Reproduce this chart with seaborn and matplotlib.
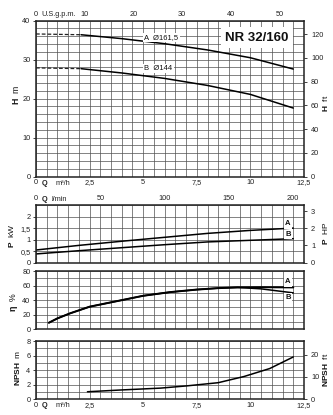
import numpy as np
import pandas as pd
import matplotlib
matplotlib.use("Agg")
import matplotlib.pyplot as plt
import seaborn as sns
from matplotlib.ticker import MultipleLocator, FixedLocator

sns.set_theme(style="white")
plt.rcParams['font.family'] = ['Liberation Sans', 'DejaVu Sans']
plt.rcParams['mathtext.fontset'] = 'custom'
plt.rcParams['mathtext.rm'] = 'Liberation Sans'
plt.rcParams['mathtext.bf'] = 'Liberation Sans:bold'
plt.rcParams['mathtext.it'] = 'Liberation Sans:italic'

# ---------------- data ----------------
q_shutoff = [0, 2.1]
head_A_dash = [36.6, 36.4]
head_B_dash = [27.9, 27.7]
q_head = [2.1, 4, 6, 8, 10, 12]
head_A = [36.4, 35.4, 34.1, 32.5, 30.5, 27.6]
head_B = [27.7, 26.6, 25.2, 23.4, 21.1, 17.6]

q_power = [0, 2, 4, 6, 8, 10, 12]
power_A = [0.55, 0.75, 0.93, 1.10, 1.27, 1.40, 1.50]
power_B = [0.38, 0.52, 0.65, 0.78, 0.90, 0.97, 1.04]

q_eff = [0.6, 1.0, 1.6, 2.5, 4.0, 5.0, 6.25, 7.5, 8.5, 9.4, 10.5, 12.0]
eff_A = [9, 15, 22, 31, 40, 46, 51, 54.5, 56.5, 57.5, 57.8, 57.5]
eff_B = [9, 15, 22, 31, 40, 46, 51, 54.5, 56.5, 57.5, 55.5, 50.0]

q_npsh = [2.4, 4, 5.8, 7, 8.5, 9.7, 10.9, 12]
npsh = [1.0, 1.25, 1.5, 1.8, 2.25, 3.1, 4.2, 5.8]

q_ticks = [0, 2.5, 5, 7.5, 10, 12.5]
q_labels = ["0", "2,5", "5", "7,5", "10", "12,5"]
gpm_ticks = [0, 10, 20, 30, 40, 50]
lmin_ticks = [0, 50, 100, 150, 200]
head_m_ticks = [0, 10, 20, 30, 40]
head_ft_ticks = [0, 20, 40, 60, 80, 100, 120]
kw_ticks = [0, 0.5, 1, 1.5, 2]
kw_labels = ["0", "0,5", "1", "1,5", "2"]
hp_ticks = [0, 1, 2, 3]
eff_ticks = [0, 20, 40, 60, 80]
npsh_m_ticks = [0, 2, 4, 6, 8]
npsh_ft_ticks = [0, 10, 20]

title = "NR 32/160"

# ---------------- layout ----------------
W, H = 333, 415
fig = plt.figure(figsize=(W / 100, H / 100), dpi=100)

def frac(top_px, bot_px, left_px=36, right_px=304):
    return [left_px / W, 1 - bot_px / H, (right_px - left_px) / W, (bot_px - top_px) / H]

GRID = '#505050'
FS = 5.3
LW = 1.1

def base(ax, ylim, ymin_step, yticks, ylabels=None):
    ax.set_xlim(0, 12.5)
    ax.set_ylim(*ylim)
    ax.xaxis.set_major_locator(FixedLocator(q_ticks))
    ax.xaxis.set_minor_locator(MultipleLocator(0.5))
    ax.yaxis.set_major_locator(FixedLocator(yticks))
    ax.yaxis.set_minor_locator(MultipleLocator(ymin_step))
    if ylabels is not None:
        ax.set_yticklabels(ylabels)
    ax.grid(which='both', color=GRID, lw=0.5)
    ax.tick_params(axis='x', which='both', length=0, labelsize=FS, pad=2, colors='#222')
    ax.tick_params(axis='y', which='major', length=2.5, width=0.6, labelsize=FS, pad=1.5,
                   colors='#222', left=True)
    ax.tick_params(axis='y', which='minor', length=0)
    for s in ax.spines.values():
        s.set_color('#222')
        s.set_linewidth(1.1)
    ax.set_xlabel("")
    ax.set_ylabel("")

def right_axis(ax, lim, ticks):
    r = ax.twinx()
    r.set_ylim(*lim)
    r.yaxis.set_major_locator(FixedLocator(ticks))
    r.tick_params(axis='y', length=2.5, width=0.6, labelsize=FS, pad=2.5, colors='#222', right=True)
    r.grid(False)
    for s in r.spines.values():
        s.set_visible(False)
    return r

# ---------- Head panel ----------
axH = fig.add_axes(frac(20.7, 176.7))
base(axH, (0, 40), 2, head_m_ticks)
axH.set_xticklabels(q_labels)
sns.lineplot(x=q_shutoff, y=head_A_dash, ax=axH, color='#222', lw=0.9, linestyle=(0, (3, 1.6)))
sns.lineplot(x=q_shutoff, y=head_B_dash, ax=axH, color='#222', lw=0.9, linestyle=(0, (3, 1.6)))
sns.lineplot(x=q_head, y=head_A, ax=axH, color='black', lw=LW)
sns.lineplot(x=q_head, y=head_B, ax=axH, color='black', lw=LW)
axH.text(5.05, 35.7, "A  Ø161,5", fontsize=5.5, ha='left', va='center', color='#111',
         bbox=dict(boxstyle='square,pad=0.15', fc='white', ec='none'), zorder=5)
axH.text(5.05, 27.8, "B  Ø144", fontsize=5.5, ha='left', va='center', color='#111',
         bbox=dict(boxstyle='square,pad=0.15', fc='white', ec='none'), zorder=5)
axH.text(10.3, 35.6, title, fontsize=9.5, fontweight='bold', ha='center', va='center',
         color='#111', bbox=dict(boxstyle='square,pad=0.35', fc='white', ec='none'), zorder=6)
axH.text(0.42, -0.043, "Q", transform=axH.get_xaxis_transform(), fontsize=FS, fontweight='bold',
         ha='center', va='center', color='#222')
axH.text(0.9, -0.043, "m³/h", transform=axH.get_xaxis_transform(), fontsize=FS,
         ha='left', va='center', color='#222')
rH = right_axis(axH, (0, 40 * 3.28084), head_ft_ticks)
topH = axH.twiny()
topH.set_xlim(0, 12.5 * 4.40287)
topH.xaxis.set_major_locator(FixedLocator(gpm_ticks))
topH.tick_params(axis='x', length=0, labelsize=FS, pad=2, colors='#222')
topH.grid(False)
for s in topH.spines.values():
    s.set_visible(False)
axH.text(0.27, 1.04, "U.S.g.p.m.", transform=axH.get_xaxis_transform(), fontsize=FS,
         ha='left', va='center', color='#222')

# ---------- Power panel ----------
axP = fig.add_axes(frac(205, 262.7))
base(axP, (0, 2.5), 0.5, kw_ticks, kw_labels)
axP.set_xticklabels([])
sns.lineplot(x=q_power, y=power_A, ax=axP, color='black', lw=LW)
sns.lineplot(x=q_power, y=power_B, ax=axP, color='black', lw=LW)
for lab, yv in (("A", 1.68), ("B", 1.23)):
    axP.text(11.75, yv, lab, fontsize=5.5, fontweight='bold', ha='center', va='center',
             color='#111', bbox=dict(boxstyle='square,pad=0.15', fc='white', ec='none'), zorder=5)
rP = right_axis(axP, (0, 2.5 / 0.7457), hp_ticks)
topP = axP.twiny()
topP.set_xlim(0, 12.5 * 1000 / 60)
topP.xaxis.set_major_locator(FixedLocator(lmin_ticks))
topP.tick_params(axis='x', length=0, labelsize=FS, pad=2, colors='#222')
topP.grid(False)
for s in topP.spines.values():
    s.set_visible(False)
axP.text(0.42, 1.1, "Q", transform=axP.get_xaxis_transform(), fontsize=FS, fontweight='bold',
         ha='center', va='center', color='#222')
axP.text(0.72, 1.1, "l/min", transform=axP.get_xaxis_transform(), fontsize=FS,
         ha='left', va='center', color='#222')

# ---------- Efficiency panel ----------
axE = fig.add_axes(frac(271, 329.3))
base(axE, (0, 80), 10, eff_ticks)
axE.set_xticklabels([])
sns.lineplot(x=q_eff, y=eff_A, ax=axE, color='black', lw=LW * 1.3)
sns.lineplot(x=q_eff, y=eff_B, ax=axE, color='black', lw=LW)
for lab, yv in (("A", 65), ("B", 44)):
    axE.text(11.75, yv, lab, fontsize=5.5, fontweight='bold', ha='center', va='center',
             color='#111', bbox=dict(boxstyle='square,pad=0.15', fc='white', ec='none'), zorder=5)

# ---------- NPSH panel ----------
axN = fig.add_axes(frac(341, 399))
base(axN, (0, 8), 1, npsh_m_ticks)
axN.set_xticklabels(q_labels)
sns.lineplot(x=q_npsh, y=npsh, ax=axN, color='black', lw=LW)
axN.text(0.42, -0.12, "Q", transform=axN.get_xaxis_transform(), fontsize=FS, fontweight='bold',
         ha='center', va='center', color='#222')
axN.text(0.9, -0.12, "m³/h", transform=axN.get_xaxis_transform(), fontsize=FS,
         ha='left', va='center', color='#222')
rN = right_axis(axN, (0, 8 * 3.28084), npsh_ft_ticks)

# ---------- axis titles ----------
def ylab(xpx, ypx, s, fs=6.3):
    fig.text(xpx / W, 1 - ypx / H, s, rotation=90, ha='center', va='center',
             fontsize=fs, color='#111')

ylab(16, 95, r"$\mathbf{H}$  m")
ylab(12, 236, r"$\mathbf{P}$  kW", 6.0)
ylab(14, 302, r"$\mathbf{η}$  %")
ylab(18, 368, r"$\mathbf{NPSH}$  m", 6.0)
ylab(325, 103, r"$\mathbf{H}$  ft", 6.0)
ylab(325, 233, r"$\mathbf{P}$  HP", 6.0)
ylab(325, 370, r"$\mathbf{NPSH}$  ft", 6.0)

fig.savefig("out.png", dpi=100)
